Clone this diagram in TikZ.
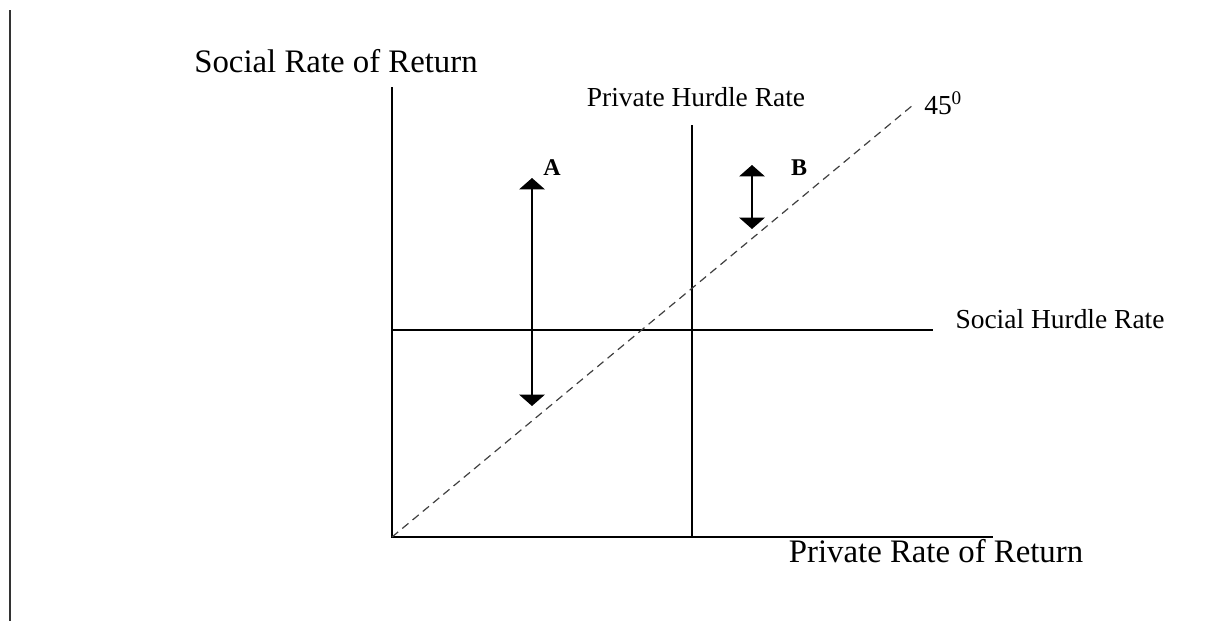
\documentclass[tikz,border=0pt]{standalone}
\usepackage{fontspec}
\setmainfont{Liberation Serif}
\usetikzlibrary{arrows.meta,positioning}

\begin{document}
\begin{tikzpicture}[
  x=0.75pt,
  y=-0.75pt,
  axis/.style={line width=1.7pt,black},
  hurdle/.style={line width=1.5pt,black},
  diag/.style={line width=0.9pt,black!75,dash pattern=on 6pt off 4pt},
  gap/.style={line width=1.4pt,black,{Triangle[width=19pt,length=8.5pt]}-{Triangle[width=19pt,length=8.5pt]}},
  axislabel/.style={font=\fontsize{24.6}{28}\selectfont,inner sep=0pt},
  ratelabel/.style={font=\fontsize{20.6}{24}\selectfont,inner sep=0pt},
  projlabel/.style={font=\fontsize{18}{20}\selectfont\bfseries,inner sep=0pt}
]

\useasboundingbox (0,0) rectangle (1219,621);

% Left margin rule
\coordinate (M1) at (10,10);
\coordinate (M2) at (10,621);
\draw[line width=1.2pt,black!80] (M1)--(M2);

% Axes
\coordinate (O) at (392,537);
\coordinate (Ytop) at (392,87);
\coordinate (Xend) at (993,537);
\draw[axis] (Ytop)--(O)--(Xend);

% Hurdle rates
\coordinate (P1) at (692,125);
\coordinate (P2) at (692,537);
\coordinate (S1) at (392,330);
\coordinate (S2) at (933,330);
\draw[hurdle] (P1)--(P2);
\draw[hurdle] (S1)--(S2);

% 45 degree line
\coordinate (D) at (913,105);
\draw[diag] (O)--(D);

% Projects
\coordinate (A1) at (532,178);
\coordinate (A2) at (532,406);
\coordinate (B1) at (752,165);
\coordinate (B2) at (752,229);
\draw[gap] (A1)--(A2);
\draw[gap] (B1)--(B2);

% Labels
\node[axislabel] (ylab) at (336,61) {Social Rate of Return};
\node[axislabel] (xlab) at (936,551) {Private Rate of Return};
\node[ratelabel] (phr) at (696,97) {Private Hurdle Rate};
\node[ratelabel] (shr) at (1060,319) {Social Hurdle Rate};
\node[ratelabel,anchor=west] (deg) at (924,103) {45\textsuperscript{0}};
\node[projlabel] (lA) at (552,168) {A};
\node[projlabel] (lB) at (799,168) {B};

\end{tikzpicture}
\end{document}
